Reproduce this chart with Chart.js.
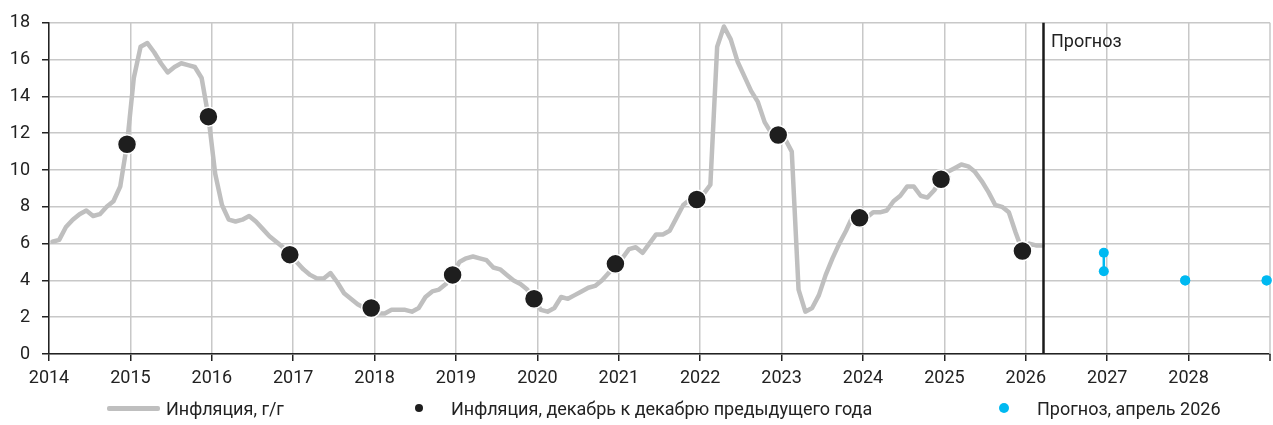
<!DOCTYPE html>
<html lang="ru">
<head>
<meta charset="utf-8">
<title>Инфляция</title>
<script src="https://cdn.jsdelivr.net/npm/chart.js@4.4.1/dist/chart.umd.min.js"></script>
<style>
  html, body { margin: 0; padding: 0; background: #fff; }
  #wrap { position: relative; width: 1273px; height: 425px; overflow: hidden;
          font-family: Roboto, "Liberation Sans", Arial, sans-serif; color: #222; }
  #chart { position: absolute; left: 0; top: 0; }
  .leg-text { position: absolute; top: 399px; font-size: 18px; line-height: 20px; white-space: nowrap; }
  .leg-line { position: absolute; left: 107px; top: 406px; width: 53px; height: 5px; background: #bfbfbf; border-radius: 2px; }
  .leg-dot { position: absolute; border-radius: 50%; }
</style>
</head>
<body>
<div id="wrap">
  <canvas id="chart" width="1273" height="425"></canvas>
  <div class="leg-line"></div>
  <div class="leg-text" style="left:166px">Инфляция, г/г</div>
  <div class="leg-dot" style="left:415px;top:404px;width:8px;height:8px;background:#1e1e1e"></div>
  <div class="leg-text" style="left:451px">Инфляция, декабрь к декабрю предыдущего года</div>
  <div class="leg-dot" style="left:999px;top:403px;width:10px;height:10px;background:#00b9f1"></div>
  <div class="leg-text" style="left:1037px">Прогноз, апрель 2026</div>
</div>
<script>
// Annual inflation, % y/y, monthly from January 2014
const startYear = 2014;
const monthlyInflation = [
  6.1, 6.2, 6.9, 7.3, 7.6, 7.8, 7.5, 7.6, 8.0, 8.3, 9.1, 11.4,        // 2014
  15.0, 16.7, 16.9, 16.4, 15.8, 15.3, 15.6, 15.8, 15.7, 15.6, 15.0, 12.9, // 2015
  9.8, 8.1, 7.3, 7.2, 7.3, 7.5, 7.2, 6.8, 6.4, 6.1, 5.8, 5.4,         // 2016
  5.0, 4.6, 4.3, 4.1, 4.1, 4.4, 3.9, 3.3, 3.0, 2.7, 2.5, 2.5,         // 2017
  2.2, 2.2, 2.4, 2.4, 2.4, 2.3, 2.5, 3.1, 3.4, 3.5, 3.8, 4.3,         // 2018
  5.0, 5.2, 5.3, 5.2, 5.1, 4.7, 4.6, 4.3, 4.0, 3.8, 3.5, 3.0,         // 2019
  2.4, 2.3, 2.5, 3.1, 3.0, 3.2, 3.4, 3.6, 3.7, 4.0, 4.4, 4.9,         // 2020
  5.2, 5.7, 5.8, 5.5, 6.0, 6.5, 6.5, 6.7, 7.4, 8.1, 8.4, 8.4,         // 2021
  8.7, 9.2, 16.7, 17.8, 17.1, 15.9, 15.1, 14.3, 13.7, 12.6, 12.0, 11.9, // 2022
  11.7, 11.0, 3.5, 2.3, 2.5, 3.2, 4.3, 5.2, 6.0, 6.7, 7.5, 7.4,       // 2023
  7.4, 7.7, 7.7, 7.8, 8.3, 8.6, 9.1, 9.1, 8.6, 8.5, 8.9, 9.5,         // 2024
  9.9, 10.1, 10.3, 10.2, 9.9, 9.4, 8.8, 8.1, 8.0, 7.7, 6.6, 5.6,      // 2025
  6.0, 5.9, 5.9                                                       // 2026
];

// December to December of the previous year
const decemberYears = [2014, 2015, 2016, 2017, 2018, 2019, 2020, 2021, 2022, 2023, 2024, 2025];
const decemberInflation = [11.4, 12.9, 5.4, 2.5, 4.3, 3.0, 4.9, 8.4, 11.9, 7.4, 9.5, 5.6];

// Forecast (April 2026), end of year range
const forecastYears = [2026, 2027, 2028];
const forecastLow = [4.5, 4.0, 4.0];
const forecastHigh = [5.5, 4.0, 4.0];

// Axis range and labelled ticks
const xMin = 2014;
const xMax = 2029;
const xTickYears = [2014, 2015, 2016, 2017, 2018, 2019, 2020, 2021, 2022, 2023, 2024, 2025, 2026, 2027, 2028];
const yTickValues = [0, 2, 4, 6, 8, 10, 12, 14, 16, 18];

const FONT = 'Roboto, "Liberation Sans", Arial, sans-serif';
const TEXT = '#222222';
const GRID = '#c8c8c8';

// Observations sit in the middle of their month
const monthPos = (year, monthIdx) => year + (monthIdx + 0.5) / 12;

const linePoints = monthlyInflation.map((v, i) => ({
  x: monthPos(startYear + Math.floor(i / 12), i % 12), y: v
}));
const decemberPoints = decemberYears.map((yr, i) => ({ x: monthPos(yr, 11), y: decemberInflation[i] }));
const forecastPoints = [];
forecastYears.forEach((yr, i) => {
  forecastPoints.push({ x: monthPos(yr, 11), y: forecastHigh[i] });
  forecastPoints.push({ x: monthPos(yr, 11), y: forecastLow[i] });
  forecastPoints.push({ x: monthPos(yr, 11), y: null });
});
const forecastBoundary = linePoints[linePoints.length - 1].x;

// Closing grid line (and its tick) at the right end of the time axis
const edgeGrid = {
  id: 'edgeGrid',
  beforeDatasetsDraw(chart) {
    const { ctx, chartArea, scales } = chart;
    const px = scales.x.getPixelForValue(xMax);
    ctx.save();
    ctx.lineWidth = 1.5;
    ctx.strokeStyle = GRID;
    ctx.beginPath();
    ctx.moveTo(px, chartArea.top);
    ctx.lineTo(px, chartArea.bottom);
    ctx.stroke();
    ctx.strokeStyle = '#222';
    ctx.beginPath();
    ctx.moveTo(px, chartArea.bottom);
    ctx.lineTo(px, chartArea.bottom + 7);
    ctx.stroke();
    ctx.restore();
  }
};

// Vertical divider between actual data and forecast
const forecastMarker = {
  id: 'forecastMarker',
  afterDatasetsDraw(chart) {
    const { ctx, chartArea, scales } = chart;
    const px = Math.round(scales.x.getPixelForValue(forecastBoundary)) + 0.5;
    ctx.save();
    ctx.strokeStyle = '#1a1a1a';
    ctx.lineWidth = 2.5;
    ctx.beginPath();
    ctx.moveTo(px, chartArea.top);
    ctx.lineTo(px, chartArea.bottom);
    ctx.stroke();
    ctx.fillStyle = TEXT;
    ctx.font = '18px ' + FONT;
    ctx.textAlign = 'left';
    ctx.textBaseline = 'alphabetic';
    ctx.fillText('Прогноз', px + 7.5, chartArea.top + 24);
    ctx.restore();
  }
};

new Chart(document.getElementById('chart'), {
  type: 'line',
  data: {
    datasets: [
      {
        label: 'Инфляция, декабрь к декабрю предыдущего года',
        data: decemberPoints,
        showLine: false,
        pointRadius: 9.5,
        pointBackgroundColor: '#1e1e1e',
        pointBorderColor: '#ffffff',
        pointBorderWidth: 1.5,
        clip: false,
        order: 0
      },
      {
        label: 'Прогноз, апрель 2026',
        data: forecastPoints,
        borderColor: '#00b9f1',
        borderWidth: 2.5,
        spanGaps: false,
        pointRadius: 5,
        pointBackgroundColor: '#00b9f1',
        pointBorderWidth: 0,
        clip: false,
        order: 1
      },
      {
        label: 'Инфляция, г/г',
        data: linePoints,
        borderColor: '#bfbfbf',
        borderWidth: 4.5,
        borderJoinStyle: 'round',
        borderCapStyle: 'round',
        pointRadius: 0,
        tension: 0,
        order: 2
      }
    ]
  },
  options: {
    responsive: false,
    animation: false,
    events: [],
    layout: { autoPadding: false, padding: { left: 0, right: 3, top: 20, bottom: 35 } },
    plugins: { legend: { display: false }, tooltip: { enabled: false } },
    scales: {
      x: {
        type: 'linear',
        min: xMin,
        max: xMax,
        afterBuildTicks: s => { s.ticks = xTickYears.map(v => ({ value: v })); },
        afterFit: s => { s.height = 36; },
        ticks: {
          autoSkip: false, maxRotation: 0, padding: 7,
          color: TEXT, font: { family: FONT, size: 18 },
          callback: v => String(v)
        },
        grid: { color: GRID, lineWidth: 1.5, tickLength: 7, tickColor: '#222', tickWidth: 1.5 },
        border: { color: '#222', width: 1.5 }
      },
      y: {
        min: yTickValues[0],
        max: yTickValues[yTickValues.length - 1],
        afterBuildTicks: s => { s.ticks = yTickValues.map(v => ({ value: v })); },
        afterFit: s => { s.width = 49; },
        ticks: {
          padding: 12, color: TEXT, font: { family: FONT, size: 18 },
          callback: v => String(v)
        },
        grid: { color: GRID, lineWidth: 1.5, tickLength: 7, tickColor: '#222', tickWidth: 1.5 },
        border: { color: '#222', width: 1.5 }
      }
    }
  },
  plugins: [edgeGrid, forecastMarker]
});
</script>
</body>
</html>
